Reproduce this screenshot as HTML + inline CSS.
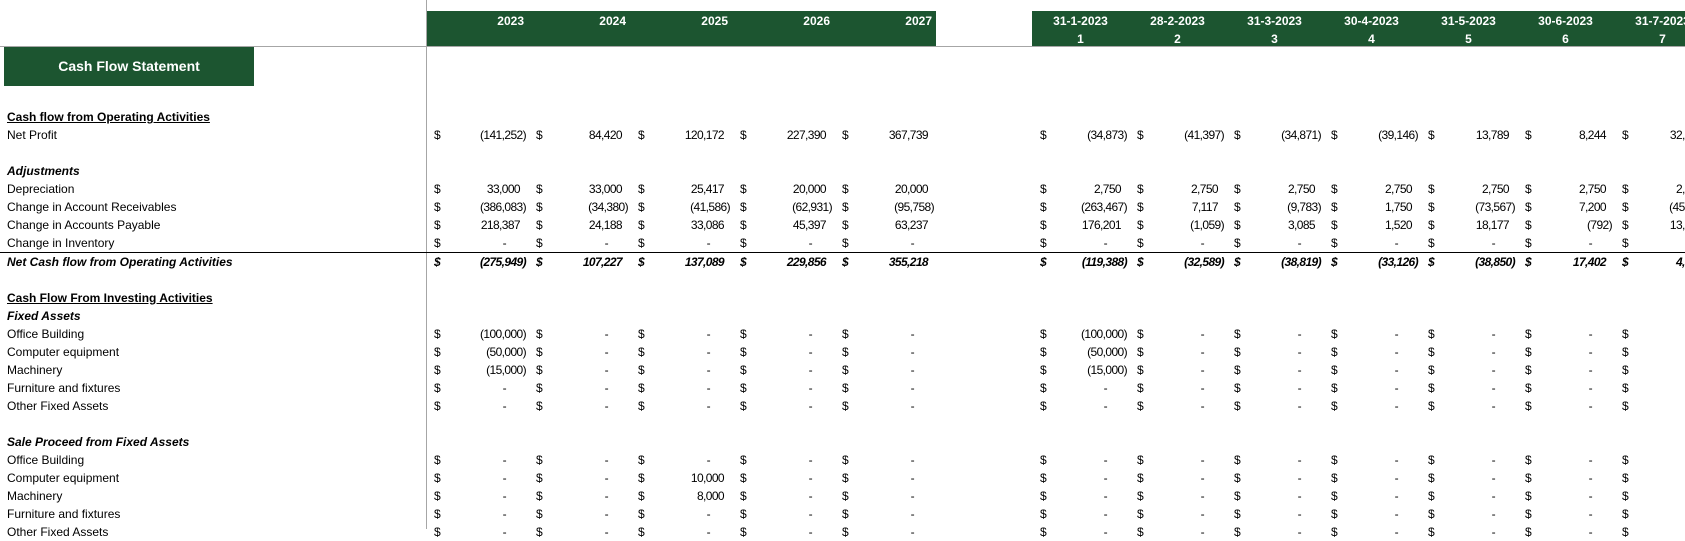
<!DOCTYPE html>
<html><head><meta charset="utf-8"><style>
*{margin:0;padding:0;box-sizing:border-box}
body{width:1685px;height:529px;overflow:hidden;background:#fff;position:relative;font-family:"Liberation Sans",Arial,sans-serif;font-size:12px;color:#000}
.g{position:absolute;background:#1c5530;top:11px;height:35px}
.hl{position:absolute;left:0;top:46px;width:1685px;height:1px;background:#a6a6a6}
.vl{position:absolute;left:426px;top:0;width:1px;height:529px;background:#a6a6a6}
.h{position:absolute;color:#fff;font-weight:bold;font-size:12px;line-height:18px}
.box{position:absolute;left:4px;top:47px;width:250px;height:39px;background:#1c5530;color:#fff;font-weight:bold;font-size:14px;text-align:center;line-height:39px}
table{position:absolute;top:108px;left:0;border-collapse:collapse;table-layout:fixed;width:1711px}
td{height:18px;padding:0;white-space:nowrap;overflow:hidden;line-height:18px}
td.l{padding-left:7px}
td.v{padding-left:8px;padding-right:2px;text-align:right;letter-spacing:-0.6px}
.d{float:left}
.p{padding-right:6px}
.z{padding-right:20px}
.u{font-weight:bold;text-decoration:underline}
.bi{font-weight:bold;font-style:italic}
tr.t td{border-top:1px solid #000;font-weight:bold;font-style:italic}
</style></head><body>
<div class="g" style="left:426px;width:510px"></div>
<div class="g" style="left:1032px;width:653px"></div>
<div class="hl"></div>
<div class="vl"></div>
<div class="h" style="left:426px;top:12px;width:98px;text-align:right">2023</div>
<div class="h" style="left:528px;top:12px;width:98px;text-align:right">2024</div>
<div class="h" style="left:630px;top:12px;width:98px;text-align:right">2025</div>
<div class="h" style="left:732px;top:12px;width:98px;text-align:right">2026</div>
<div class="h" style="left:834px;top:12px;width:98px;text-align:right">2027</div>
<div class="h" style="left:1032px;top:12px;width:97px;text-align:center">31-1-2023<br>1</div>
<div class="h" style="left:1129px;top:12px;width:97px;text-align:center">28-2-2023<br>2</div>
<div class="h" style="left:1226px;top:12px;width:97px;text-align:center">31-3-2023<br>3</div>
<div class="h" style="left:1323px;top:12px;width:97px;text-align:center">30-4-2023<br>4</div>
<div class="h" style="left:1420px;top:12px;width:97px;text-align:center">31-5-2023<br>5</div>
<div class="h" style="left:1517px;top:12px;width:97px;text-align:center">30-6-2023<br>6</div>
<div class="h" style="left:1614px;top:12px;width:97px;text-align:center">31-7-2023<br>7</div>
<div class="box">Cash Flow Statement</div>
<table>
<colgroup><col style="width:426px"><col style="width:102px"><col style="width:102px"><col style="width:102px"><col style="width:102px"><col style="width:102px"><col style="width:96px"><col style="width:97px"><col style="width:97px"><col style="width:97px"><col style="width:97px"><col style="width:97px"><col style="width:97px"><col style="width:97px"></colgroup>
<tr><td class="l"><span class="u">Cash flow from Operating Activities</span></td><td></td><td></td><td></td><td></td><td></td><td></td><td></td><td></td><td></td><td></td><td></td><td></td><td></td></tr>
<tr><td class="l">Net Profit</td><td class="v"><span class="d">$</span>(141,252)</td><td class="v"><span class="d">$</span><span class="p">84,420</span></td><td class="v"><span class="d">$</span><span class="p">120,172</span></td><td class="v"><span class="d">$</span><span class="p">227,390</span></td><td class="v"><span class="d">$</span><span class="p">367,739</span></td><td></td><td class="v"><span class="d">$</span>(34,873)</td><td class="v"><span class="d">$</span>(41,397)</td><td class="v"><span class="d">$</span>(34,871)</td><td class="v"><span class="d">$</span>(39,146)</td><td class="v"><span class="d">$</span><span class="p">13,789</span></td><td class="v"><span class="d">$</span><span class="p">8,244</span></td><td class="v"><span class="d">$</span><span class="p">32,415</span></td></tr>
<tr><td></td><td></td><td></td><td></td><td></td><td></td><td></td><td></td><td></td><td></td><td></td><td></td><td></td><td></td></tr>
<tr><td class="l bi">Adjustments</td><td></td><td></td><td></td><td></td><td></td><td></td><td></td><td></td><td></td><td></td><td></td><td></td><td></td></tr>
<tr><td class="l">Depreciation</td><td class="v"><span class="d">$</span><span class="p">33,000</span></td><td class="v"><span class="d">$</span><span class="p">33,000</span></td><td class="v"><span class="d">$</span><span class="p">25,417</span></td><td class="v"><span class="d">$</span><span class="p">20,000</span></td><td class="v"><span class="d">$</span><span class="p">20,000</span></td><td></td><td class="v"><span class="d">$</span><span class="p">2,750</span></td><td class="v"><span class="d">$</span><span class="p">2,750</span></td><td class="v"><span class="d">$</span><span class="p">2,750</span></td><td class="v"><span class="d">$</span><span class="p">2,750</span></td><td class="v"><span class="d">$</span><span class="p">2,750</span></td><td class="v"><span class="d">$</span><span class="p">2,750</span></td><td class="v"><span class="d">$</span><span class="p">2,750</span></td></tr>
<tr><td class="l">Change in Account Receivables</td><td class="v"><span class="d">$</span>(386,083)</td><td class="v"><span class="d">$</span>(34,380)</td><td class="v"><span class="d">$</span>(41,586)</td><td class="v"><span class="d">$</span>(62,931)</td><td class="v"><span class="d">$</span>(95,758)</td><td></td><td class="v"><span class="d">$</span>(263,467)</td><td class="v"><span class="d">$</span><span class="p">7,117</span></td><td class="v"><span class="d">$</span>(9,783)</td><td class="v"><span class="d">$</span><span class="p">1,750</span></td><td class="v"><span class="d">$</span>(73,567)</td><td class="v"><span class="d">$</span><span class="p">7,200</span></td><td class="v"><span class="d">$</span>(45,012)</td></tr>
<tr><td class="l">Change in Accounts Payable</td><td class="v"><span class="d">$</span><span class="p">218,387</span></td><td class="v"><span class="d">$</span><span class="p">24,188</span></td><td class="v"><span class="d">$</span><span class="p">33,086</span></td><td class="v"><span class="d">$</span><span class="p">45,397</span></td><td class="v"><span class="d">$</span><span class="p">63,237</span></td><td></td><td class="v"><span class="d">$</span><span class="p">176,201</span></td><td class="v"><span class="d">$</span>(1,059)</td><td class="v"><span class="d">$</span><span class="p">3,085</span></td><td class="v"><span class="d">$</span><span class="p">1,520</span></td><td class="v"><span class="d">$</span><span class="p">18,177</span></td><td class="v"><span class="d">$</span>(792)</td><td class="v"><span class="d">$</span><span class="p">13,433</span></td></tr>
<tr><td class="l">Change in Inventory</td><td class="v"><span class="d">$</span><span class="z">-</span></td><td class="v"><span class="d">$</span><span class="z">-</span></td><td class="v"><span class="d">$</span><span class="z">-</span></td><td class="v"><span class="d">$</span><span class="z">-</span></td><td class="v"><span class="d">$</span><span class="z">-</span></td><td></td><td class="v"><span class="d">$</span><span class="z">-</span></td><td class="v"><span class="d">$</span><span class="z">-</span></td><td class="v"><span class="d">$</span><span class="z">-</span></td><td class="v"><span class="d">$</span><span class="z">-</span></td><td class="v"><span class="d">$</span><span class="z">-</span></td><td class="v"><span class="d">$</span><span class="z">-</span></td><td class="v"><span class="d">$</span><span class="z">-</span></td></tr>
<tr class="t"><td class="l">Net Cash flow from Operating Activities</td><td class="v"><span class="d">$</span>(275,949)</td><td class="v"><span class="d">$</span><span class="p">107,227</span></td><td class="v"><span class="d">$</span><span class="p">137,089</span></td><td class="v"><span class="d">$</span><span class="p">229,856</span></td><td class="v"><span class="d">$</span><span class="p">355,218</span></td><td></td><td class="v"><span class="d">$</span>(119,388)</td><td class="v"><span class="d">$</span>(32,589)</td><td class="v"><span class="d">$</span>(38,819)</td><td class="v"><span class="d">$</span>(33,126)</td><td class="v"><span class="d">$</span>(38,850)</td><td class="v"><span class="d">$</span><span class="p">17,402</span></td><td class="v"><span class="d">$</span><span class="p">4,012</span></td></tr>
<tr><td></td><td></td><td></td><td></td><td></td><td></td><td></td><td></td><td></td><td></td><td></td><td></td><td></td><td></td></tr>
<tr><td class="l"><span class="u">Cash Flow From Investing Activities</span></td><td></td><td></td><td></td><td></td><td></td><td></td><td></td><td></td><td></td><td></td><td></td><td></td><td></td></tr>
<tr><td class="l bi">Fixed Assets</td><td></td><td></td><td></td><td></td><td></td><td></td><td></td><td></td><td></td><td></td><td></td><td></td><td></td></tr>
<tr><td class="l">Office Building</td><td class="v"><span class="d">$</span>(100,000)</td><td class="v"><span class="d">$</span><span class="z">-</span></td><td class="v"><span class="d">$</span><span class="z">-</span></td><td class="v"><span class="d">$</span><span class="z">-</span></td><td class="v"><span class="d">$</span><span class="z">-</span></td><td></td><td class="v"><span class="d">$</span>(100,000)</td><td class="v"><span class="d">$</span><span class="z">-</span></td><td class="v"><span class="d">$</span><span class="z">-</span></td><td class="v"><span class="d">$</span><span class="z">-</span></td><td class="v"><span class="d">$</span><span class="z">-</span></td><td class="v"><span class="d">$</span><span class="z">-</span></td><td class="v"><span class="d">$</span><span class="z">-</span></td></tr>
<tr><td class="l">Computer equipment</td><td class="v"><span class="d">$</span>(50,000)</td><td class="v"><span class="d">$</span><span class="z">-</span></td><td class="v"><span class="d">$</span><span class="z">-</span></td><td class="v"><span class="d">$</span><span class="z">-</span></td><td class="v"><span class="d">$</span><span class="z">-</span></td><td></td><td class="v"><span class="d">$</span>(50,000)</td><td class="v"><span class="d">$</span><span class="z">-</span></td><td class="v"><span class="d">$</span><span class="z">-</span></td><td class="v"><span class="d">$</span><span class="z">-</span></td><td class="v"><span class="d">$</span><span class="z">-</span></td><td class="v"><span class="d">$</span><span class="z">-</span></td><td class="v"><span class="d">$</span><span class="z">-</span></td></tr>
<tr><td class="l">Machinery</td><td class="v"><span class="d">$</span>(15,000)</td><td class="v"><span class="d">$</span><span class="z">-</span></td><td class="v"><span class="d">$</span><span class="z">-</span></td><td class="v"><span class="d">$</span><span class="z">-</span></td><td class="v"><span class="d">$</span><span class="z">-</span></td><td></td><td class="v"><span class="d">$</span>(15,000)</td><td class="v"><span class="d">$</span><span class="z">-</span></td><td class="v"><span class="d">$</span><span class="z">-</span></td><td class="v"><span class="d">$</span><span class="z">-</span></td><td class="v"><span class="d">$</span><span class="z">-</span></td><td class="v"><span class="d">$</span><span class="z">-</span></td><td class="v"><span class="d">$</span><span class="z">-</span></td></tr>
<tr><td class="l">Furniture and fixtures</td><td class="v"><span class="d">$</span><span class="z">-</span></td><td class="v"><span class="d">$</span><span class="z">-</span></td><td class="v"><span class="d">$</span><span class="z">-</span></td><td class="v"><span class="d">$</span><span class="z">-</span></td><td class="v"><span class="d">$</span><span class="z">-</span></td><td></td><td class="v"><span class="d">$</span><span class="z">-</span></td><td class="v"><span class="d">$</span><span class="z">-</span></td><td class="v"><span class="d">$</span><span class="z">-</span></td><td class="v"><span class="d">$</span><span class="z">-</span></td><td class="v"><span class="d">$</span><span class="z">-</span></td><td class="v"><span class="d">$</span><span class="z">-</span></td><td class="v"><span class="d">$</span><span class="z">-</span></td></tr>
<tr><td class="l">Other Fixed Assets</td><td class="v"><span class="d">$</span><span class="z">-</span></td><td class="v"><span class="d">$</span><span class="z">-</span></td><td class="v"><span class="d">$</span><span class="z">-</span></td><td class="v"><span class="d">$</span><span class="z">-</span></td><td class="v"><span class="d">$</span><span class="z">-</span></td><td></td><td class="v"><span class="d">$</span><span class="z">-</span></td><td class="v"><span class="d">$</span><span class="z">-</span></td><td class="v"><span class="d">$</span><span class="z">-</span></td><td class="v"><span class="d">$</span><span class="z">-</span></td><td class="v"><span class="d">$</span><span class="z">-</span></td><td class="v"><span class="d">$</span><span class="z">-</span></td><td class="v"><span class="d">$</span><span class="z">-</span></td></tr>
<tr><td></td><td></td><td></td><td></td><td></td><td></td><td></td><td></td><td></td><td></td><td></td><td></td><td></td><td></td></tr>
<tr><td class="l bi">Sale Proceed from Fixed Assets</td><td></td><td></td><td></td><td></td><td></td><td></td><td></td><td></td><td></td><td></td><td></td><td></td><td></td></tr>
<tr><td class="l">Office Building</td><td class="v"><span class="d">$</span><span class="z">-</span></td><td class="v"><span class="d">$</span><span class="z">-</span></td><td class="v"><span class="d">$</span><span class="z">-</span></td><td class="v"><span class="d">$</span><span class="z">-</span></td><td class="v"><span class="d">$</span><span class="z">-</span></td><td></td><td class="v"><span class="d">$</span><span class="z">-</span></td><td class="v"><span class="d">$</span><span class="z">-</span></td><td class="v"><span class="d">$</span><span class="z">-</span></td><td class="v"><span class="d">$</span><span class="z">-</span></td><td class="v"><span class="d">$</span><span class="z">-</span></td><td class="v"><span class="d">$</span><span class="z">-</span></td><td class="v"><span class="d">$</span><span class="z">-</span></td></tr>
<tr><td class="l">Computer equipment</td><td class="v"><span class="d">$</span><span class="z">-</span></td><td class="v"><span class="d">$</span><span class="z">-</span></td><td class="v"><span class="d">$</span><span class="p">10,000</span></td><td class="v"><span class="d">$</span><span class="z">-</span></td><td class="v"><span class="d">$</span><span class="z">-</span></td><td></td><td class="v"><span class="d">$</span><span class="z">-</span></td><td class="v"><span class="d">$</span><span class="z">-</span></td><td class="v"><span class="d">$</span><span class="z">-</span></td><td class="v"><span class="d">$</span><span class="z">-</span></td><td class="v"><span class="d">$</span><span class="z">-</span></td><td class="v"><span class="d">$</span><span class="z">-</span></td><td class="v"><span class="d">$</span><span class="z">-</span></td></tr>
<tr><td class="l">Machinery</td><td class="v"><span class="d">$</span><span class="z">-</span></td><td class="v"><span class="d">$</span><span class="z">-</span></td><td class="v"><span class="d">$</span><span class="p">8,000</span></td><td class="v"><span class="d">$</span><span class="z">-</span></td><td class="v"><span class="d">$</span><span class="z">-</span></td><td></td><td class="v"><span class="d">$</span><span class="z">-</span></td><td class="v"><span class="d">$</span><span class="z">-</span></td><td class="v"><span class="d">$</span><span class="z">-</span></td><td class="v"><span class="d">$</span><span class="z">-</span></td><td class="v"><span class="d">$</span><span class="z">-</span></td><td class="v"><span class="d">$</span><span class="z">-</span></td><td class="v"><span class="d">$</span><span class="z">-</span></td></tr>
<tr><td class="l">Furniture and fixtures</td><td class="v"><span class="d">$</span><span class="z">-</span></td><td class="v"><span class="d">$</span><span class="z">-</span></td><td class="v"><span class="d">$</span><span class="z">-</span></td><td class="v"><span class="d">$</span><span class="z">-</span></td><td class="v"><span class="d">$</span><span class="z">-</span></td><td></td><td class="v"><span class="d">$</span><span class="z">-</span></td><td class="v"><span class="d">$</span><span class="z">-</span></td><td class="v"><span class="d">$</span><span class="z">-</span></td><td class="v"><span class="d">$</span><span class="z">-</span></td><td class="v"><span class="d">$</span><span class="z">-</span></td><td class="v"><span class="d">$</span><span class="z">-</span></td><td class="v"><span class="d">$</span><span class="z">-</span></td></tr>
<tr><td class="l">Other Fixed Assets</td><td class="v"><span class="d">$</span><span class="z">-</span></td><td class="v"><span class="d">$</span><span class="z">-</span></td><td class="v"><span class="d">$</span><span class="z">-</span></td><td class="v"><span class="d">$</span><span class="z">-</span></td><td class="v"><span class="d">$</span><span class="z">-</span></td><td></td><td class="v"><span class="d">$</span><span class="z">-</span></td><td class="v"><span class="d">$</span><span class="z">-</span></td><td class="v"><span class="d">$</span><span class="z">-</span></td><td class="v"><span class="d">$</span><span class="z">-</span></td><td class="v"><span class="d">$</span><span class="z">-</span></td><td class="v"><span class="d">$</span><span class="z">-</span></td><td class="v"><span class="d">$</span><span class="z">-</span></td></tr>
</table>
</body></html>
